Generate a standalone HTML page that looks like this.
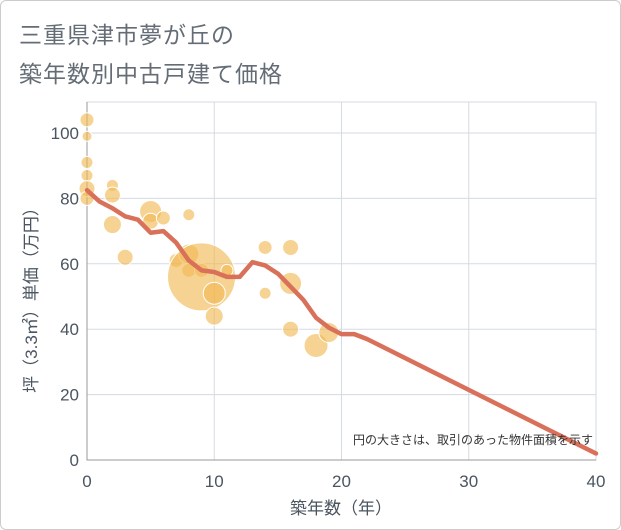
<!DOCTYPE html>
<html><head><meta charset="utf-8"><style>
body{margin:0;background:#fff;}
#wrap{position:relative;width:619px;height:528px;border:1px solid #ccc;border-radius:6px;background:#fff;overflow:hidden;font-family:"Liberation Sans","Noto Sans CJK JP",sans-serif;}
.title{position:absolute;left:18px;font-size:23px;color:#646d75;letter-spacing:1px;}
</style></head><body>
<div id="wrap">
<div class="title" style="top:15px">三重県津市夢が丘の</div>
<div class="title" style="top:54px">築年数別中古戸建て価格</div>
<svg id="chart" width="621" height="530" style="position:absolute;left:-1px;top:-1px"></svg>
</div>
<script>
const xTicks=[0,10,20,30,40];
const yTicks=[0,20,40,60,80,100];
const bubbleX=[0,0,0,0,0,0,2,2,2,3,5,5,6,8,7,8,8,9,9,10,10,11,14,14,16,16,16,18,19];
const bubbleY=[104,99,91,87,83,80,84,81,72,62,76,73,74,75,61,63,58,58,56,51,44,58,65,51,65,54,40,35,39];
const bubbleR=[7,5,6,6,8,7,6,8,9,8,11,8,7,6,7,10,7,7,34,11,9,6,7,6,8,11,8,12,10];
const lineX=[0,1,2,3,4,5,6,7,8,9,10,11,12,13,14,15,16,17,18,19,20,21,22,40];
const lineY=[82.5,79,77,74.5,73.5,69.5,70,66.5,61,58,57.5,56,56,60.5,59.5,57,53,49,43.5,40.5,38.5,38.5,37,2];
const L=87,R=596,T=102,B=460;
const xs=v=>L+(v/40)*(R-L);
const ys=v=>B-(v/100)*(B-133);
const svg=document.getElementById('chart');
const NS='http://www.w3.org/2000/svg';
function mk(t,a){const e=document.createElementNS(NS,t);for(const k in a)e.setAttribute(k,a[k]);svg.appendChild(e);return e;}
let frame=mk('rect',{x:L,y:T,width:R-L,height:B-T,fill:'#fff',stroke:'#d3dbe3'});


xTicks.forEach(t=>{
 const g=mk('line',{x1:xs(t),x2:xs(t),y1:T,y2:B,stroke:'#d3dbe3','stroke-width':1});
 
 
 const tx=mk('text',{x:xs(t),y:487,'text-anchor':'middle','font-size':17,fill:'#4a5560'});
 tx.textContent=t;
 
 
});
yTicks.forEach(t=>{
 const g=mk('line',{x1:L,x2:R,y1:ys(t),y2:ys(t),stroke:'#d3dbe3','stroke-width':1});
 
 
 const tx=mk('text',{x:79,y:ys(t)+6,'text-anchor':'end','font-size':17,fill:'#4a5560'});
 tx.textContent=t;
 
 
});
const ax=mk('path',{d:`M${L},${T}V${B}H${R}`,fill:'none',stroke:'#999','stroke-width':1});


bubbleX.forEach((x,i)=>{
 const c=mk('circle',{cx:xs(x),cy:ys(bubbleY[i]),r:bubbleR[i],fill:'#f0b850','fill-opacity':0.62,stroke:'#fff','stroke-width':1});
 
 
});
const p=mk('polyline',{points:lineX.map((x,i)=>xs(x)+','+ys(lineY[i])).join(' '),fill:'none',stroke:'#d9705a','stroke-width':4.5,'stroke-linejoin':'round','stroke-linecap':'round'});


const note=mk('text',{x:593,y:444,'text-anchor':'end','font-size':12,fill:'#333'});
note.textContent='円の大きさは、取引のあった物件面積を示す';


const xt=mk('text',{x:341,y:514,'text-anchor':'middle','font-size':17,fill:'#4a5560'});
xt.textContent='築年数（年）';


const yt=mk('text',{x:0,y:0,'text-anchor':'middle','font-size':17,fill:'#4a5560',transform:'translate(37,296) rotate(-90)'});
yt.textContent='坪（3.3㎡）単価（万円）';


</script>
</body></html>
